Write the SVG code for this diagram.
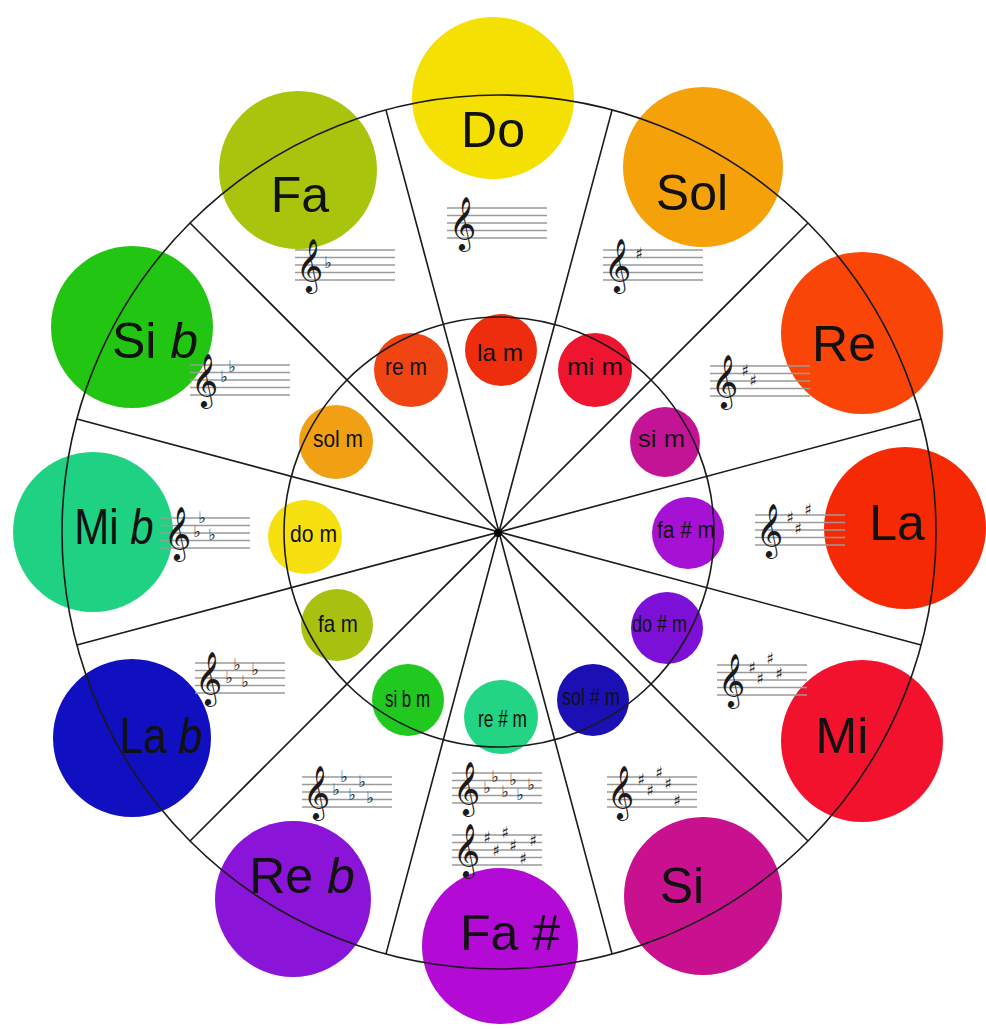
<svg xmlns="http://www.w3.org/2000/svg" width="986" height="1029" viewBox="0 0 986 1029">
<style>
.maj{font-family:"Liberation Sans",Arial,sans-serif;font-size:50px;fill:#111;text-anchor:middle}
.min{font-family:"Liberation Sans",Arial,sans-serif;font-size:24px;fill:#111}
.wl{stroke:#1a1a1a;stroke-width:1.6;fill:none}
.st line{stroke:#9a9a9a;stroke-width:1.6}
.clef{font-family:"DejaVu Sans",sans-serif;font-size:46px;fill:#1a1a1a}
.acc{font-family:"DejaVu Sans",sans-serif;font-size:16px;fill:#222;text-anchor:middle}
</style>
<defs>
<g id="staffL" class="st"><line x1="0" y1="0" x2="100" y2="0"/><line x1="0" y1="7.5" x2="100" y2="7.5"/><line x1="0" y1="15" x2="100" y2="15"/><line x1="0" y1="22.5" x2="100" y2="22.5"/><line x1="0" y1="30" x2="100" y2="30"/></g>
<g id="staffS" class="st"><line x1="0" y1="0" x2="90" y2="0"/><line x1="0" y1="7.5" x2="90" y2="7.5"/><line x1="0" y1="15" x2="90" y2="15"/><line x1="0" y1="22.5" x2="90" y2="22.5"/><line x1="0" y1="30" x2="90" y2="30"/></g>
</defs>
<rect width="986" height="1029" fill="#fff"/>

<g id="major-circles">
<circle cx="493" cy="98" r="81" fill="#f5e003"/>
<circle cx="703" cy="167" r="80" fill="#f5a10a"/>
<circle cx="862" cy="333" r="81" fill="#fa4508"/>
<circle cx="905" cy="528" r="81" fill="#f52a05"/>
<circle cx="862" cy="741" r="81" fill="#f2122e"/>
<circle cx="703" cy="896" r="79" fill="#c9108f"/>
<circle cx="500" cy="946" r="78" fill="#b30ad6"/>
<circle cx="293" cy="899" r="78" fill="#8a14d8"/>
<circle cx="132" cy="738" r="79" fill="#1010c0"/>
<circle cx="93" cy="532" r="80" fill="#1fd283"/>
<circle cx="132" cy="327" r="81" fill="#22c612"/>
<circle cx="298" cy="170" r="79" fill="#a9c40c"/>
</g>

<g id="minor-circles">
<circle cx="501" cy="350" r="36" fill="#ee2c0e"/>
<circle cx="595" cy="370" r="37" fill="#ee1530"/>
<circle cx="665" cy="442" r="35" fill="#c41496"/>
<circle cx="688" cy="533" r="36" fill="#a612d4"/>
<circle cx="667" cy="628" r="36" fill="#7c10d6"/>
<circle cx="593" cy="700" r="36" fill="#1a10b4"/>
<circle cx="501" cy="717" r="37" fill="#22d484"/>
<circle cx="408" cy="700" r="36" fill="#20c820"/>
<circle cx="337" cy="625" r="36" fill="#a8c010"/>
<circle cx="305" cy="537" r="37" fill="#f6e010"/>
<circle cx="336" cy="442" r="37" fill="#f0a012"/>
<circle cx="411" cy="370" r="37" fill="#f04412"/>
</g>

<g id="connectors">
<circle class="wl" cx="499" cy="532" r="437"/>
<circle class="wl" cx="499" cy="532" r="215"/>
<line class="wl" x1="612.1" y1="109.9" x2="385.9" y2="954.1"/>
<line class="wl" x1="808" y1="223" x2="190" y2="841"/>
<line class="wl" x1="921.1" y1="418.9" x2="76.9" y2="645.1"/>
<line class="wl" x1="921.1" y1="645.1" x2="76.9" y2="418.9"/>
<line class="wl" x1="808" y1="841" x2="190" y2="223"/>
<line class="wl" x1="612.1" y1="954.1" x2="385.9" y2="109.9"/>
<circle cx="498" cy="533" r="4" fill="#000"/>
</g>

<g id="key-Do"><use href="#staffL" x="447" y="208"/><text class="clef" x="449" y="239">𝄞</text>
<text class="maj" x="493" y="147">Do</text></g>
<g id="key-Sol"><use href="#staffL" x="603" y="250"/><text class="clef" x="604" y="281">𝄞</text>
<text class="acc" x="639" y="259">♯</text>
<text class="maj" x="692" y="210">Sol</text></g>
<g id="key-Re"><use href="#staffL" x="710" y="366"/><text class="clef" x="711" y="397">𝄞</text>
<text class="acc" x="745" y="376">♯</text><text class="acc" x="753" y="386">♯</text>
<text class="maj" x="844" y="361">Re</text></g>
<g id="key-La"><use href="#staffS" x="755" y="515"/><text class="clef" x="756" y="546">𝄞</text>
<text class="acc" x="790" y="523">♯</text><text class="acc" x="798" y="534">♯</text><text class="acc" x="808" y="515">♯</text>
<text class="maj" x="897" y="540">La</text></g>
<g id="key-Mi"><use href="#staffS" x="717" y="665"/><text class="clef" x="718" y="696">𝄞</text>
<text class="acc" x="752" y="673">♯</text><text class="acc" x="760" y="684">♯</text><text class="acc" x="770" y="664">♯</text><text class="acc" x="779" y="679">♯</text>
<text class="maj" x="842" y="753">Mi</text></g>
<g id="key-Si"><use href="#staffS" x="607" y="777"/><text class="clef" x="607" y="808">𝄞</text>
<text class="acc" x="641" y="785">♯</text><text class="acc" x="650" y="796">♯</text><text class="acc" x="659" y="778">♯</text><text class="acc" x="668" y="789">♯</text><text class="acc" x="677" y="806">♯</text>
<text class="maj" x="682" y="903">Si</text></g>
<g id="key-FaSharp"><use href="#staffS" x="452" y="773"/><text class="clef" x="453" y="804">𝄞</text>
<text class="acc" x="487" y="793">♭</text><text class="acc" x="495" y="782">♭</text><text class="acc" x="505" y="797">♭</text><text class="acc" x="513" y="785">♭</text><text class="acc" x="520" y="800">♭</text><text class="acc" x="531" y="790">♭</text>
<use href="#staffS" x="452" y="835"/><text class="clef" x="453" y="866">𝄞</text>
<text class="acc" x="487" y="843">♯</text><text class="acc" x="496" y="856">♯</text><text class="acc" x="505" y="838">♯</text><text class="acc" x="513" y="851">♯</text><text class="acc" x="523" y="864">♯</text><text class="acc" x="533" y="846">♯</text>
<text class="maj" x="510" y="950">Fa #</text></g>
<g id="key-Reb"><use href="#staffS" x="302" y="777"/><text class="clef" x="303" y="808">𝄞</text>
<text class="acc" x="336" y="795">♭</text><text class="acc" x="344" y="782">♭</text><text class="acc" x="352" y="800">♭</text><text class="acc" x="362" y="787">♭</text><text class="acc" x="370" y="803">♭</text>
<text class="maj" x="302" y="893">Re <tspan font-style="italic">b</tspan></text></g>
<g id="key-Lab"><use href="#staffS" x="195" y="663"/><text class="clef" x="195" y="694">𝄞</text>
<text class="acc" x="229" y="683">♭</text><text class="acc" x="237" y="670">♭</text><text class="acc" x="245" y="687">♭</text><text class="acc" x="255" y="675">♭</text>
<text class="maj" transform="translate(161,753) scale(0.85,1)" x="0" y="0">La <tspan font-style="italic">b</tspan></text></g>
<g id="key-Mib"><use href="#staffS" x="160" y="518"/><text class="clef" x="164" y="549">𝄞</text>
<text class="acc" x="197" y="537">♭</text><text class="acc" x="202" y="523">♭</text><text class="acc" x="212" y="540">♭</text>
<text class="maj" transform="translate(114,544) scale(0.84,1)" x="0" y="0">Mi <tspan font-style="italic">b</tspan></text></g>
<g id="key-Sib"><use href="#staffL" x="190" y="365"/><text class="clef" x="191" y="396">𝄞</text>
<text class="acc" x="224" y="382">♭</text><text class="acc" x="232" y="372">♭</text>
<text class="maj" x="155" y="358">Si <tspan font-style="italic">b</tspan></text></g>
<g id="key-Fa"><use href="#staffL" x="295" y="250"/><text class="clef" x="296" y="281">𝄞</text>
<text class="acc" x="328" y="268">♭</text>
<text class="maj" x="300" y="212">Fa</text></g>

<g id="minor-labels">
<text class="min" x="385" y="375" textLength="42" lengthAdjust="spacingAndGlyphs">re m</text>
<text class="min" x="477" y="361" textLength="46" lengthAdjust="spacingAndGlyphs">la m</text>
<text class="min" x="567" y="375" textLength="56" lengthAdjust="spacingAndGlyphs">mi m</text>
<text class="min" x="638" y="447" textLength="47" lengthAdjust="spacingAndGlyphs">si m</text>
<text class="min" x="657" y="538" textLength="58" lengthAdjust="spacingAndGlyphs">fa # m</text>
<text class="min" x="632" y="632" textLength="55" lengthAdjust="spacingAndGlyphs">do # m</text>
<text class="min" x="562" y="705" textLength="58" lengthAdjust="spacingAndGlyphs">sol # m</text>
<text class="min" x="478" y="727" textLength="49" lengthAdjust="spacingAndGlyphs">re # m</text>
<text class="min" x="385" y="707" textLength="45" lengthAdjust="spacingAndGlyphs">si b m</text>
<text class="min" x="318" y="632" textLength="40" lengthAdjust="spacingAndGlyphs">fa m</text>
<text class="min" x="290" y="542" textLength="47" lengthAdjust="spacingAndGlyphs">do m</text>
<text class="min" x="313" y="447" textLength="50" lengthAdjust="spacingAndGlyphs">sol m</text>
</g>
</svg>
